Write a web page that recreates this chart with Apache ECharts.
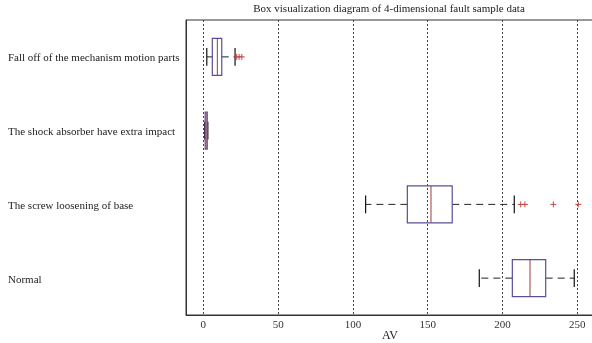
<!DOCTYPE html>
<html>
<head>
<meta charset="utf-8">
<script src="https://cdn.jsdelivr.net/npm/echarts@6/dist/echarts.min.js"></script>
<style>html,body{margin:0;padding:0;background:#fff}#c{width:592px;height:343px}</style>
</head>
<body>
<div id="c"></div>
<script>
var categories = ['Fall off of the mechanism motion parts', 'The shock absorber have extra impact', 'The screw loosening of base', 'Normal'];
var lowWhisker = [2.3, 0.9, 108.5, 184.5];
var q1 = [6.0, 1.2, 136.4, 206.6];
var median = [9.4, 1.9, 152.2, 218.4];
var q3 = [12.3, 2.6, 166.4, 228.9];
var highWhisker = [21.2, 3.0, 207.9, 248.0];
var fallOffOutliers = [22.3, 23.9, 25.7];
var screwOutliers = [212.2, 215.0, 234.0, 250.7];
var tickValues = [0, 50, 100, 150, 200, 250];

var boxData = categories.map(function (c, i) {
  return [i, lowWhisker[i], q1[i], median[i], q3[i], highWhisker[i]];
});
var outlierData = fallOffOutliers.map(function (v) { return [v, 0]; })
  .concat(screwOutliers.map(function (v) { return [v, 2]; }));

var serif = 'Liberation Serif';
var chart = echarts.init(document.getElementById('c'));
chart.setOption({
  animation: false,
  backgroundColor: '#fff',
  graphic: [{
    type: 'text', x: 389, y: 9,
    style: { text: 'Box visualization diagram of 4-dimensional fault sample data', font: '11px "Liberation Serif"', fill: '#222', align: 'center', verticalAlign: 'middle' }
  }],
  grid: { left: 186, right: -2, top: 20, bottom: 28, containLabel: false, outerBoundsMode: 'none',
    show: true, borderColor: '#333', borderWidth: 1, backgroundColor: 'transparent' },
  xAxis: {
    type: 'value', min: -11.6, max: 261.2,
    name: 'AV', nameLocation: 'middle', nameGap: 15, nameMoveOverlap: false,
    nameTextStyle: { fontFamily: serif, fontSize: 12, color: '#222', verticalAlign: 'top' },
    axisLine: { show: true, onZero: false, lineStyle: { color: '#333', width: 1 } },
    axisTick: { show: false, customValues: tickValues },
    axisLabel: { customValues: tickValues, fontFamily: serif, fontSize: 11, color: '#333', margin: 5 },
    splitLine: { show: true, lineStyle: { color: '#444', type: [2, 2], width: 1 } }
  },
  yAxis: {
    type: 'category', data: categories, inverse: true,
    axisLine: { show: true, onZero: false, lineStyle: { color: '#333', width: 1 } },
    axisTick: { show: false },
    axisLabel: { align: 'left', verticalAlign: 'top', margin: 178, fontFamily: serif, fontSize: 11, color: '#222', padding: [-4, 0, 0, 0] },
    splitLine: { show: false }
  },
  series: [{
    type: 'custom',
    data: boxData,
    encode: { x: [1, 2, 3, 4, 5], y: 0 },
    renderItem: function (params, api) {
      var cat = api.value(0);
      var band = api.size([0, 1])[1];
      var hb = band * 0.25, hc = band * 0.12;
      var pLow = api.coord([api.value(1), cat]);
      var pQ1 = api.coord([api.value(2), cat]);
      var pMed = api.coord([api.value(3), cat]);
      var pQ3 = api.coord([api.value(4), cat]);
      var pHigh = api.coord([api.value(5), cat]);
      var y = pMed[1];
      var dash = { stroke: '#222', lineWidth: 1, lineDash: [7, 5] };
      var solid = { stroke: '#111', lineWidth: 1.2 };
      return {
        type: 'group',
        children: [
          { type: 'line', shape: { x1: pQ1[0], y1: y, x2: pLow[0], y2: y }, style: dash },
          { type: 'line', shape: { x1: pQ3[0], y1: y, x2: pHigh[0], y2: y }, style: dash },
          { type: 'line', shape: { x1: pLow[0], y1: y - hc, x2: pLow[0], y2: y + hc }, style: solid },
          { type: 'line', shape: { x1: pHigh[0], y1: y - hc, x2: pHigh[0], y2: y + hc }, style: solid },
          { type: 'line', shape: { x1: pMed[0], y1: y - hb, x2: pMed[0], y2: y + hb }, style: { stroke: '#b05a5a', lineWidth: 1.2 } },
          { type: 'rect', shape: { x: pQ1[0], y: y - hb, width: pQ3[0] - pQ1[0], height: hb * 2 }, style: { fill: 'none', stroke: '#5a4f96', lineWidth: 1.2 } }
        ]
      };
    }
  }, {
    type: 'custom',
    data: outlierData,
    encode: { x: 0, y: 1 },
    renderItem: function (params, api) {
      var p = api.coord([api.value(0), api.value(1)]);
      var s = 3;
      var st = { stroke: '#c04848', lineWidth: 1 };
      return {
        type: 'group',
        children: [
          { type: 'line', shape: { x1: p[0] - s, y1: p[1], x2: p[0] + s, y2: p[1] }, style: st },
          { type: 'line', shape: { x1: p[0], y1: p[1] - s, x2: p[0], y2: p[1] + s }, style: st }
        ]
      };
    }
  }]
});
</script>
</body>
</html>
